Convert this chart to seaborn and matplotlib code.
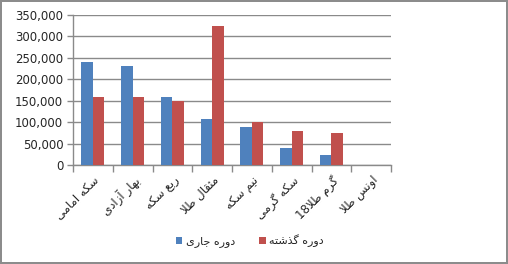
import matplotlib
matplotlib.use("Agg")
import matplotlib.pyplot as plt
from matplotlib.patches import Patch
from matplotlib.ticker import FuncFormatter, FixedLocator
import seaborn as sns
import pandas as pd

categories = ["سکه امامی", "بهار آزادی", "ربع سکه", "مثقال طلا", "نیم سکه", "سکه گرمی", "گرم طلا18", "اونس طلا"]
series_names = ["دوره جاری", "دوره گذشته"]
current = [240000, 231000, 158500, 107500, 89000, 40000, 24000, 0]
previous = [158500, 158500, 150000, 323000, 100000, 79000, 75000, 0]
yticks = [0, 50000, 100000, 150000, 200000, 250000, 300000, 350000]
colors = ["#4F81BD", "#C0504D"]

# --- minimal Arabic/Persian shaping for display (matplotlib has no shaping) ---
FORMS = {
    'ا': ('\uFE8D', '\uFE8E', None, None),
    'آ': ('\uFE81', '\uFE82', None, None),
    'ب': ('\uFE8F', '\uFE90', '\uFE91', '\uFE92'),
    'ت': ('\uFE95', '\uFE96', '\uFE97', '\uFE98'),
    'ث': ('\uFE99', '\uFE9A', '\uFE9B', '\uFE9C'),
    'ج': ('\uFE9D', '\uFE9E', '\uFE9F', '\uFEA0'),
    'د': ('\uFEA9', '\uFEAA', None, None),
    'ذ': ('\uFEAB', '\uFEAC', None, None),
    'ر': ('\uFEAD', '\uFEAE', None, None),
    'ز': ('\uFEAF', '\uFEB0', None, None),
    'س': ('\uFEB1', '\uFEB2', '\uFEB3', '\uFEB4'),
    'ش': ('\uFEB5', '\uFEB6', '\uFEB7', '\uFEB8'),
    'ط': ('\uFEC1', '\uFEC2', '\uFEC3', '\uFEC4'),
    'ع': ('\uFEC9', '\uFECA', '\uFECB', '\uFECC'),
    'ق': ('\uFED5', '\uFED6', '\uFED7', '\uFED8'),
    'ل': ('\uFEDD', '\uFEDE', '\uFEDF', '\uFEE0'),
    'م': ('\uFEE1', '\uFEE2', '\uFEE3', '\uFEE4'),
    'ن': ('\uFEE5', '\uFEE6', '\uFEE7', '\uFEE8'),
    'ه': ('\uFEE9', '\uFEEA', '\uFEEB', '\uFEEC'),
    'و': ('\uFEED', '\uFEEE', None, None),
    'ک': ('\uFB8E', '\uFB8F', '\uFB90', '\uFB91'),
    'گ': ('\uFB92', '\uFB93', '\uFB94', '\uFB95'),
    'ی': ('\uFBFC', '\uFBFD', '\uFBFE', '\uFBFF'),
}
RIGHT_ONLY = set('اآدذرزو')


def shape(s):
    chars = list(s)
    out = []
    i = 0
    n = len(chars)
    while i < n:
        c = chars[i]
        if c not in FORMS:
            out.append(c)
            i += 1
            continue
        prev = chars[i - 1] if i > 0 else None
        cp = prev is not None and prev in FORMS and prev not in RIGHT_ONLY
        nxt = chars[i + 1] if i + 1 < n else None
        if c == 'ل' and nxt in ('ا', 'آ'):
            if nxt == 'ا':
                out.append('\uFEFC' if cp else '\uFEFB')
            else:
                out.append('\uFEF6' if cp else '\uFEF5')
            i += 2
            continue
        cn = c not in RIGHT_ONLY and nxt is not None and nxt in FORMS
        iso, fin, ini, med = FORMS[c]
        if cp and cn:
            out.append(med)
        elif cp:
            out.append(fin)
        elif cn:
            out.append(ini)
        else:
            out.append(iso)
        i += 1
    # visual order: reverse, keeping digit runs LTR
    runs = []
    for ch in out:
        isd = ch.isdigit()
        if runs and runs[-1][0] == isd:
            runs[-1][1].append(ch)
        else:
            runs.append([isd, [ch]])
    vis = []
    for isd, r in reversed(runs):
        vis.append(''.join(r) if isd else ''.join(reversed(r)))
    return ''.join(vis)


df = pd.DataFrame({
    "category": categories * 2,
    "series": [series_names[0]] * len(categories) + [series_names[1]] * len(categories),
    "value": current + previous,
})

sns.set_style("white")
plt.rcParams["font.family"] = ["DejaVu Sans"]

fig = plt.figure(figsize=(5.08, 2.64), dpi=100)
fig.patch.set_facecolor("white")
fig.patch.set_edgecolor("#8c8c8c")
fig.patch.set_linewidth(1.5)
ax = fig.add_axes([0.1437, 0.375, 0.626, 0.569])

sns.barplot(data=df, x="category", y="value", hue="series", hue_order=series_names,
            order=categories, palette=colors, width=0.58, gap=0, saturation=1,
            errorbar=None, legend=False, ax=ax, zorder=3, linewidth=0, edgecolor="none")

ax.set_xlim(-0.5, len(categories) - 0.5)
ax.set_ylim(0, 350000)
ax.set_yticks(yticks)
ax.yaxis.set_major_formatter(FuncFormatter(lambda v, p: f"{int(v):,}"))
ax.grid(axis="y", color="#8a8a8a", linewidth=1, zorder=0)
ax.set_axisbelow(True)
ax.set_xlabel("")
ax.set_ylabel("")

for side in ["top", "right"]:
    ax.spines[side].set_visible(False)
for side in ["left", "bottom"]:
    ax.spines[side].set_color("#8a8a8a")
    ax.spines[side].set_linewidth(1)

ax.set_xticks(range(len(categories)))
ax.set_xticklabels([shape(c) for c in categories], rotation=45, ha="right",
                   rotation_mode="anchor", fontsize=8.5)
ax.xaxis.set_minor_locator(FixedLocator([i - 0.5 for i in range(len(categories) + 1)]))
ax.tick_params(axis="x", which="major", length=0, pad=6)
ax.tick_params(axis="x", which="minor", length=5, color="#8a8a8a", width=1, direction="out", bottom=True)
ax.tick_params(axis="y", which="major", length=4, color="#8a8a8a", width=1, direction="out",
               left=True, labelsize=8.5, pad=3)

handles = [Patch(facecolor=colors[i], edgecolor="none", label=shape(series_names[i])) for i in range(2)]
fig.legend(handles=handles, loc="center", bbox_to_anchor=(0.492, 0.088), ncol=2, frameon=False,
           fontsize=8, handlelength=0.6, handleheight=0.6, handletextpad=0.3, columnspacing=2.2)

fig.savefig("out.png", dpi=100, facecolor=fig.get_facecolor(), edgecolor=fig.get_edgecolor())
